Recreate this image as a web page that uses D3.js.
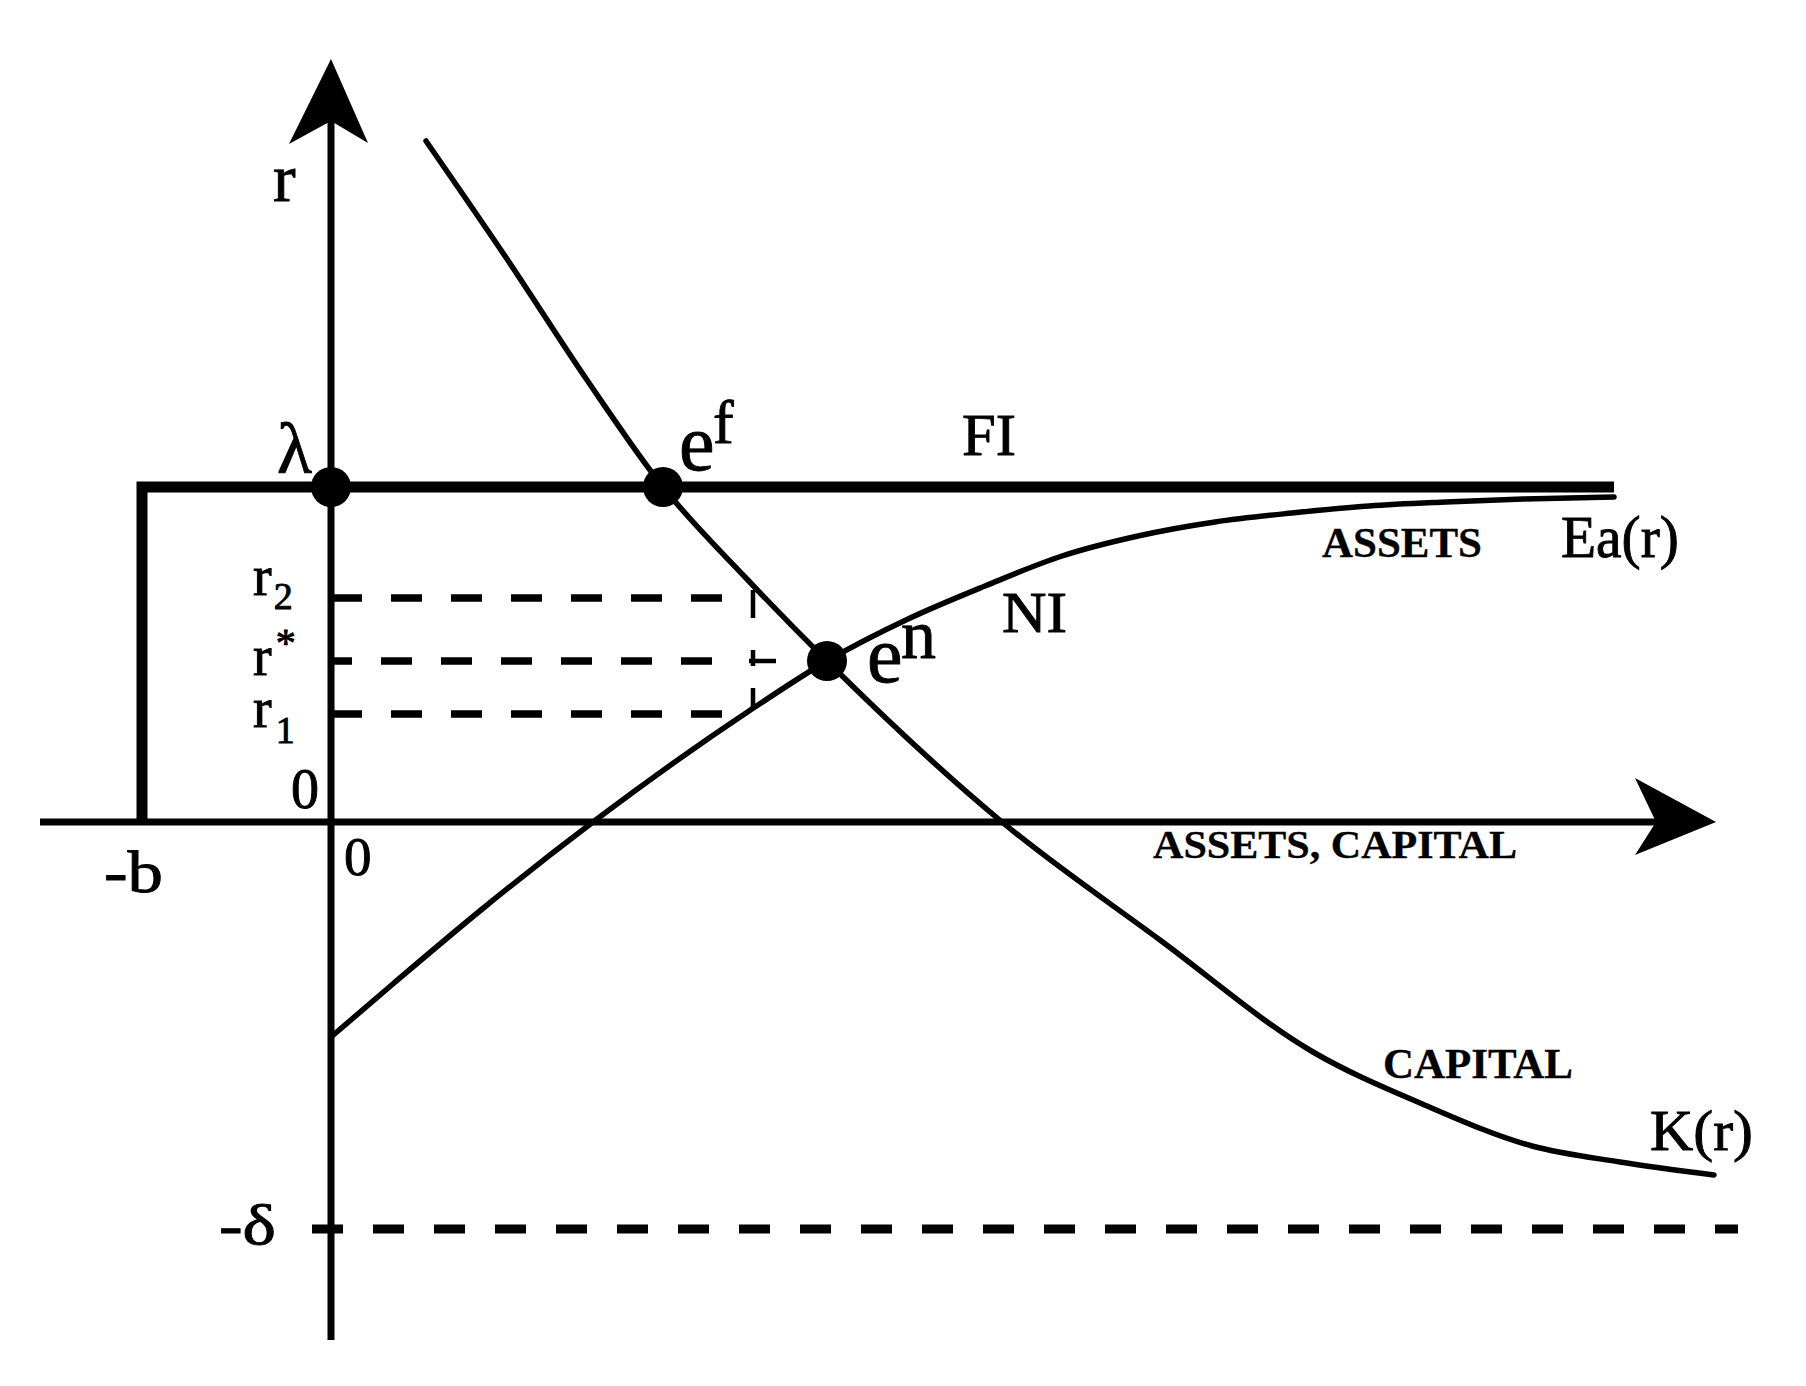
<!DOCTYPE html>
<html><head><meta charset="utf-8">
<script src="https://cdn.jsdelivr.net/npm/d3@7"></script>
<style>
body{margin:0;background:#fff}
svg{display:block;background:#fff}
text{font-family:"Liberation Serif","Times New Roman",serif;fill:#000;stroke:#000;stroke-width:0.9px}
</style>
</head><body>
<svg id="c" width="1806" height="1386"></svg>
<script>
// ---------- DATA (abstract model units) ----------
// Capital supply curve K(r): [assets/capital, r]
const capitalCurve = [
  [0.95,6.81],[1.76,5.63],[2.56,4.42],[3.32,3.35],[4.14,2.45],[4.96,1.61],
  [6.71,0.00],[8.29,-1.18],[9.82,-2.30],[10.89,-2.81],[12.01,-3.24],[12.89,-3.40],[13.83,-3.53]
];
// Expected assets curve Ea(r) (NI)
const assetsCurve = [
  [0.00,-2.15],[0.63,-1.61],[1.50,-0.88],[2.62,0.00],[4.18,1.11],[4.96,1.61],
  [5.77,2.03],[6.54,2.36],[7.31,2.66],[8.07,2.86],[8.84,3.00],[9.61,3.09],
  [10.38,3.16],[11.15,3.20],[11.92,3.23],[12.83,3.25]
];
// FI frontier: -b .. end at level lambda
const fiFrontier = [[-1.89,0],[-1.89,3.35],[12.83,3.35]];
// Equilibrium points
const equilibria = [
  {name:"lambda", x:0.00, y:3.35},
  {name:"ef",     x:3.32, y:3.35},
  {name:"en",     x:4.96, y:1.61}
];
// Interest-rate reference levels (dashed), ending near the curves
const rateLevels = [
  {name:"r2", y:2.24, end:3.98},
  {name:"r*", y:1.61, end:3.85},
  {name:"r1", y:1.08, end:3.93}
];
const adjustX = 4.22;      // vertical adjustment segment between r1 and r2
const adjustStubEnd = 4.45;
const deltaLevel = -4.07;  // -delta
const deltaLine = [-0.19, 14.07];
const xAxisExtent = [-2.91, 13.85];
const yAxisExtent = [-5.18, 7.63];

// ---------- SCALES ----------
const x = d3.scaleLinear().domain([-3, 14]).range([31, 1731]);
const y = d3.scaleLinear().domain([-6, 8]).range([1422, 22]);

const svg = d3.select("#c");
const smooth = d3.line().x(d => x(d[0])).y(d => y(d[1])).curve(d3.curveMonotoneX);
const straight = d3.line().x(d => x(d[0])).y(d => y(d[1]));

// ---------- DASHED LINES ----------
const dashG = svg.append("g").attr("stroke", "#000").attr("fill", "none");
rateLevels.forEach(l => {
  dashG.append("path")
    .attr("d", straight([[0, l.y], [l.end, l.y]]))
    .attr("stroke-width", 7.5)
    .attr("stroke-dasharray", "31,29")
    .attr("stroke-dashoffset", l.name === "r*" ? 10 : 0);
});
const r2 = rateLevels[0].y, r1 = rateLevels[2].y, rs = rateLevels[1].y;
dashG.append("path")
  .attr("d", straight([[adjustX, r2 + 0.08], [adjustX, r1 + 0.06]]))
  .attr("stroke-width", 4.5)
  .attr("stroke-dasharray", "28,32,16,22,30");
dashG.append("path")
  .attr("d", straight([[adjustX - 0.04, rs], [adjustStubEnd, rs]]))
  .attr("stroke-width", 4.5);
dashG.append("path")
  .attr("d", straight([[deltaLine[0], deltaLevel], [deltaLine[1], deltaLevel]]))
  .attr("stroke-width", 9)
  .attr("stroke-dasharray", "31,30");

// ---------- AXES ----------
const axG = svg.append("g").attr("stroke", "#000").attr("fill", "none").attr("stroke-width", 7);
axG.append("path").attr("d", straight([[xAxisExtent[0], 0], [xAxisExtent[1] - 0.3, 0]]));
axG.append("path").attr("d", straight([[0, yAxisExtent[0]], [0, yAxisExtent[1] - 0.3]]));
// arrowheads
const xt = [x(xAxisExtent[1]), y(0)];
svg.append("path").attr("fill", "#000")
  .attr("d", `M${xt[0]},${xt[1]} L${xt[0]-81},${xt[1]-44} L${xt[0]-60},${xt[1]} L${xt[0]-81},${xt[1]+33} Z`);
const yt = [x(0), y(yAxisExtent[1])];
svg.append("path").attr("fill", "#000")
  .attr("d", `M${yt[0]},${yt[1]} L${yt[0]-42},${yt[1]+85} L${yt[0]},${yt[1]+62} L${yt[0]+37},${yt[1]+84} Z`);

// ---------- CURVES ----------
const cG = svg.append("g").attr("stroke", "#000").attr("fill", "none")
  .attr("stroke-linecap", "round").attr("stroke-linejoin", "round");
cG.append("path").attr("d", smooth(capitalCurve)).attr("stroke-width", 5.5);
cG.append("path").attr("d", smooth(assetsCurve)).attr("stroke-width", 5.5);
cG.append("path").attr("d", straight(fiFrontier)).attr("stroke-width", 11)
  .attr("stroke-linecap", "butt").attr("stroke-linejoin", "miter");

// ---------- POINTS ----------
svg.append("g").selectAll("circle").data(equilibria).join("circle")
  .attr("cx", d => x(d.x)).attr("cy", d => y(d.y)).attr("r", 20).attr("fill", "#000");

// ---------- TEXT ----------
const T = (t, px, py, size, opts = {}) => {
  const e = svg.append("text").attr("x", px).attr("y", py).attr("font-size", size).text(t);
  if (opts.bold) e.attr("font-weight", "bold").style("stroke-width", "0.3px");
  if (opts.len) e.attr("textLength", opts.len).attr("lengthAdjust", "spacingAndGlyphs");
  if (opts.sub) {
    e.append("tspan").attr("font-size", opts.sub.size)
      .attr("dx", opts.sub.dx).attr("dy", opts.sub.dy).text(opts.sub.t);
  }
  return e;
};
const ox = x(0), oy = y(0);
T("r", ox - 58, 201, 68);
T("λ", ox - 54, y(3.35) - 14, 72);
T("e", x(3.32) + 16, y(3.35) - 17, 80, {sub: {t: "f", size: 62, dx: -1.5, dy: -27}});
T("FI", 962, 455, 60, {len: 54});
T("e", x(4.96) + 40, y(1.61) + 21, 80, {sub: {t: "n", size: 70, dx: -1.5, dy: -24}});
T("NI", 1002, 632, 56, {len: 65});
T("ASSETS", 1322, 557, 42, {bold: true, len: 160});
T("Ea(r)", 1561, 557, 60, {len: 118});
T("r", ox - 78, y(r2) - 3, 56, {sub: {t: "2", size: 38, dx: 2, dy: 14}});
T("r", ox - 78, y(rs) + 14, 56, {sub: {t: "*", size: 40, dx: 4, dy: -19}});
T("r", ox - 78, y(r1) + 13, 56, {sub: {t: "1", size: 38, dx: 4, dy: 16}});
T("0", ox - 40, oy - 14, 56);
T("0", ox + 13, oy + 53, 55);
T("-b", x(-1.89) - 38, oy + 70, 60, {len: 59});
T("ASSETS, CAPITAL", 1153, 858, 41, {bold: true, len: 364});
T("CAPITAL", 1383, 1078, 42, {bold: true, len: 190});
T("K(r)", 1650, 1150, 58, {len: 103});
T("-δ", ox - 112, y(deltaLevel) + 15, 56, {len: 57});
</script>
</body></html>
